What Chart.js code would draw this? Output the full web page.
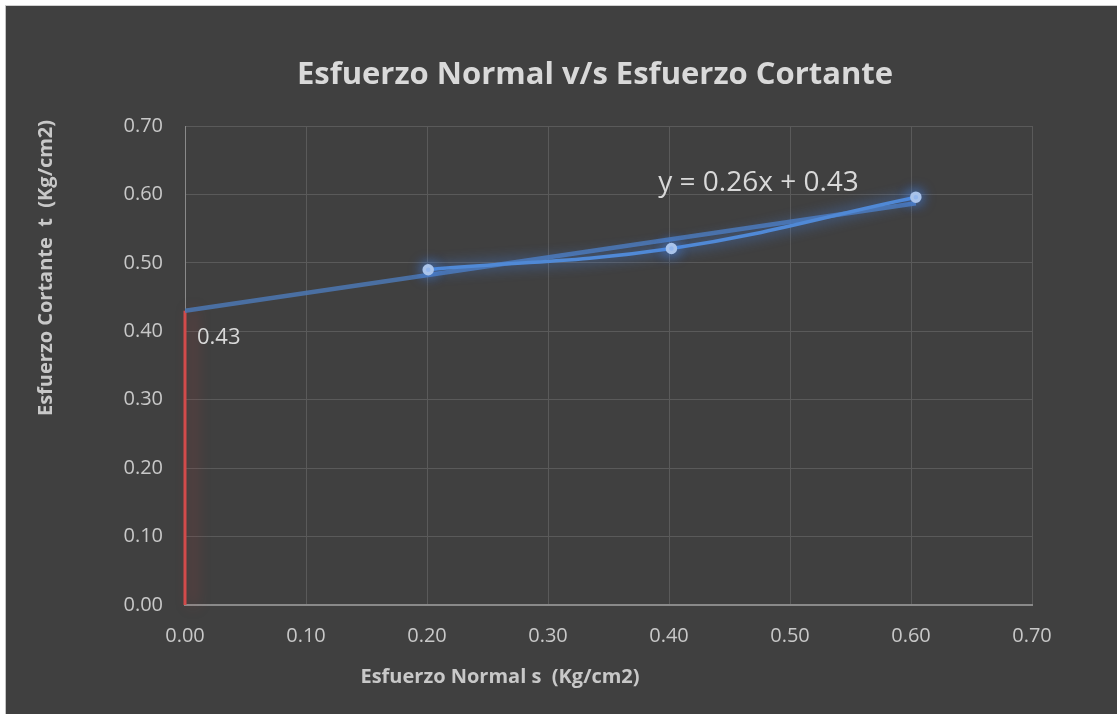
<!DOCTYPE html>
<html>
<head>
<meta charset="utf-8">
<script src="https://cdn.jsdelivr.net/npm/chart.js@4.4.0/dist/chart.umd.min.js"></script>
<style>
  body { margin: 0; background: #ffffff; }
  #marco { position: absolute; left: 5px; top: 5px; width: 1111px; height: 708px; background: #404040; border-left: 1px solid #c4c4c4; border-top: 1px solid #d0d0d0; }
  canvas { display: block; }
</style>
</head>
<body>
<div id="marco"><canvas id="grafico" width="1111" height="708"></canvas></div>
<script>
// 1. DATOS
const esfuerzoNormal = [0.201, 0.402, 0.604];
const esfuerzoCortante = [0.49, 0.521, 0.596];
const tendenciaX = [0, 0.604];
const tendenciaY = [0.43, 0.587];
const interceptoX = [0, 0];
const interceptoY = [0, 0.43];
const ticksEje = [0, 0.1, 0.2, 0.3, 0.4, 0.5, 0.6, 0.7];
const titulo = 'Esfuerzo Normal v/s Esfuerzo Cortante';
const tituloX = 'Esfuerzo Normal s  (Kg/cm2)';
const tituloY = 'Esfuerzo Cortante  t  (Kg/cm2)';
const textoEcuacion = 'y = 0.26x + 0.43';
const textoIntercepto = '0.43';

const aPuntos = (xs, ys) => xs.map((x, i) => ({ x: x, y: ys[i] }));

// 2. PLUGIN BRILLO + TEXTOS
const brillo = {
    id: 'brillo',
    beforeDatasetDraw(chart, args) {
        const ds = chart.data.datasets[args.index];
        if (!ds.brillo) return;
        const ctx = chart.ctx;
        ctx.save();
        ctx.shadowColor = ds.brillo;
        ctx.shadowBlur = ds.brilloBlur || 12;
        ctx.shadowOffsetX = ds.brilloDx || 0;
    },
    afterDatasetDraw(chart, args) {
        const ds = chart.data.datasets[args.index];
        if (ds.brillo) chart.ctx.restore();
    },
    afterDatasetsDraw(chart) {
        const ctx = chart.ctx;
        const sx = chart.scales.x, sy = chart.scales.y;
        ctx.save();
        ctx.fillStyle = '#d9d9d9';
        ctx.textBaseline = 'middle';
        ctx.font = '28px "Open Sans"';
        ctx.textAlign = 'center';
        ctx.fillText(textoEcuacion, sx.getPixelForValue(0.474), sy.getPixelForValue(0.617));
        ctx.font = '22px "Open Sans"';
        ctx.textAlign = 'left';
        ctx.fillText(textoIntercepto, sx.getPixelForValue(0) + 12, sy.getPixelForValue(0.39));

        // titulos
        ctx.textAlign = 'center';
        ctx.font = 'bold 31px "Open Sans"';
        ctx.fillText(titulo, 589, 69);
        ctx.fillStyle = '#c8c8c8';
        ctx.font = 'bold 20px "Open Sans"';
        ctx.fillText(tituloX, 494, 671);
        ctx.translate(40, 262);
        ctx.rotate(-Math.PI / 2);
        ctx.fillText(tituloY, 0, 0);
        ctx.restore();
    }
};

// 3. GRAFICO
new Chart(document.getElementById('grafico'), {
    type: 'scatter',
    data: {
        datasets: [
            {
                label: 'Datos',
                data: aPuntos(esfuerzoNormal, esfuerzoCortante),
                showLine: true,
                tension: 0.4,
                borderColor: '#5089d6',
                borderWidth: 3.5,
                pointRadius: 4,
                pointBackgroundColor: '#a9c3ea',
                pointBorderColor: '#a9c3ea',
                brillo: 'rgba(70,140,255,0.9)',
                brilloBlur: 14,
                order: 1
            },
            {
                label: 'Tendencia',
                data: aPuntos(tendenciaX, tendenciaY),
                showLine: true,
                borderColor: 'rgba(76,120,180,0.85)',
                borderWidth: 4.5,
                pointRadius: 0,
                order: 2
            },
            {
                label: 'Intercepto',
                data: aPuntos(interceptoX, interceptoY),
                showLine: true,
                borderColor: '#d24b4b',
                borderWidth: 3,
                pointRadius: 0,
                clip: false,
                brillo: 'rgba(200,60,60,0.55)',
                brilloBlur: 14,
                brilloDx: 8,
                order: 3
            }
        ]
    },
    options: {
        responsive: false,
        animation: false,
        layout: { padding: { left: 0, right: 85, top: 120, bottom: 0 } },
        plugins: {
            legend: { display: false },
            tooltip: { enabled: false },
            title: { display: false }
        },
        scales: {
            x: {
                type: 'linear',
                min: 0, max: 0.7,
                afterBuildTicks: (s) => { s.ticks = ticksEje.map(v => ({ value: v })); },
                afterFit: (s) => { s.height = 109; },
                grid: { color: '#5a5a5a', lineWidth: 1, drawTicks: false },
                border: { color: '#8a8a8a', width: 2 },
                ticks: {
                    color: '#c8c8c8', padding: 19,
                    font: { family: '"Open Sans"', size: 20 },
                    callback: (v) => v.toFixed(2)
                }
            },
            y: {
                type: 'linear',
                min: 0, max: 0.7,
                afterBuildTicks: (s) => { s.ticks = ticksEje.map(v => ({ value: v })); },
                afterFit: (s) => { s.width = 179; },
                grid: { color: '#5a5a5a', lineWidth: 1, drawTicks: false },
                border: { color: '#8a8a8a', width: 1 },
                ticks: {
                    color: '#c8c8c8', padding: 22,
                    font: { family: '"Open Sans"', size: 20 },
                    callback: (v) => v.toFixed(2)
                }
            }
        }
    },
    plugins: [brillo]
});
</script>
</body>
</html>
